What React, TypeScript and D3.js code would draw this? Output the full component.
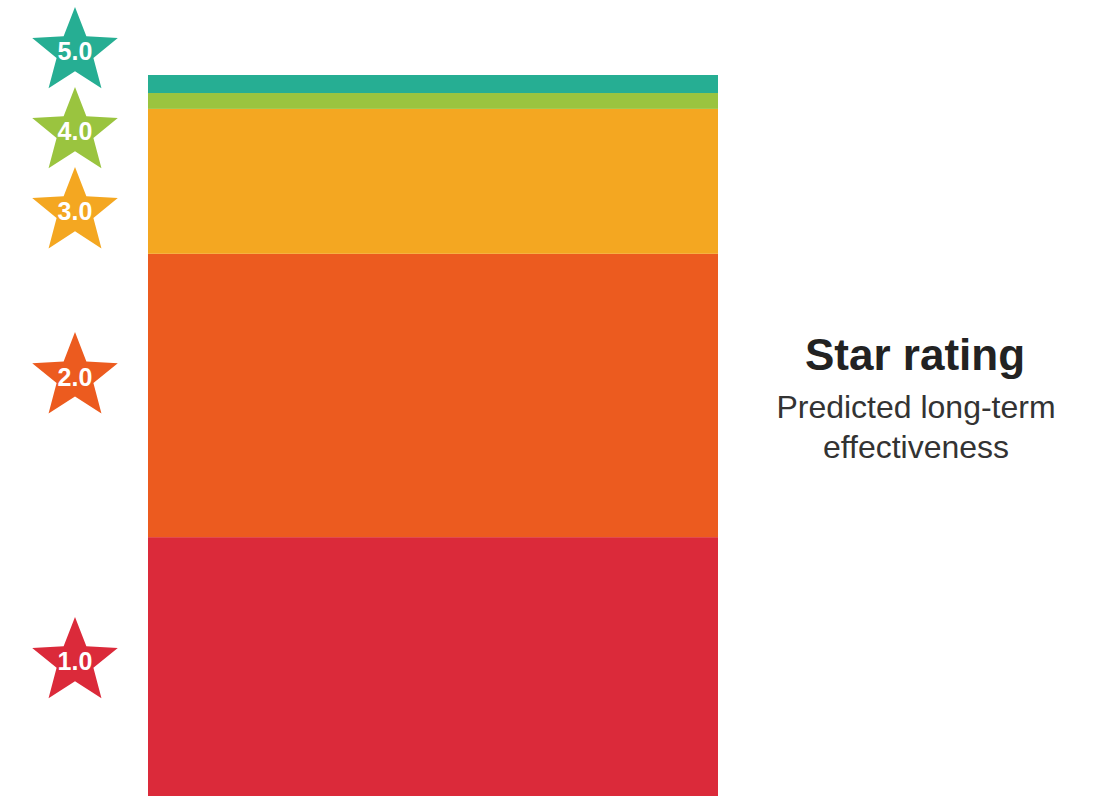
import React from "react";
import * as d3 from "d3";

// ---- data ----
const ratings = ["1.0", "2.0", "3.0", "4.0", "5.0"];
const shares = [35.9, 39.3, 20.1, 2.2, 2.5]; // % of predicted outcomes per star rating
const colors = ["#DB2A3A", "#EC5B1F", "#F4A721", "#9AC43F", "#26AE93"];
const labelAt = [18.6, 58.1, 81.0, 92.1, 103.2]; // star marker anchor, in value units
const title = "Star rating";
const subtitleLines = ["Predicted long-term", "effectiveness"];

const W = 1094;
const H = 796;
const FONT = "'Liberation Sans', Arial, Helvetica, sans-serif";

function starPath(cx: number, cy: number, R: number, r: number): string {
  const pts: [number, number][] = [];
  for (let i = 0; i < 10; i++) {
    const rad = i % 2 === 0 ? R : r;
    const a = (Math.PI / 5) * i;
    pts.push([cx + rad * Math.sin(a), cy - rad * Math.cos(a)]);
  }
  return d3.line()(pts) + "Z";
}

export default function App() {
  const y = d3.scaleLinear().domain([0, 100]).range([796, 75]);
  const x = d3.scaleBand().domain(["bar"]).range([148, 718]).padding(0);

  const cum = d3.cumsum(shares);
  const segs = shares.map((v, i) => ({
    rating: ratings[i],
    y0: cum[i] - v,
    y1: cum[i],
    color: colors[i],
  }));

  const starX = 75;
  const R = 45;
  const r = R * 0.43;

  return (
    <svg
      width={W}
      height={H}
      style={{ position: "absolute", left: 0, top: 0, background: "#fff" }}
      fontFamily={FONT}
    >
      {segs.map((s) => (
        <rect
          key={s.rating}
          x={x("bar")}
          width={x.bandwidth()}
          y={y(s.y1)}
          height={y(s.y0) - y(s.y1)}
          fill={s.color}
        />
      ))}
      {segs.map((s, i) => {
        const cy = y(labelAt[i]);
        return (
          <g key={"star" + s.rating}>
            <path d={starPath(starX, cy, R, r)} fill={s.color} />
            <text
              x={starX}
              y={cy + 8.5}
              textAnchor="middle"
              fill="#fff"
              fontWeight="bold"
              fontSize={25}
            >
              {s.rating}
            </text>
          </g>
        );
      })}
      <text x={915} y={370} textAnchor="middle" fontWeight="bold" fontSize={44} fill="#222">
        {title}
      </text>
      {subtitleLines.map((t, i) => (
        <text key={t} x={916} y={418 + i * 40} textAnchor="middle" fontSize={32} fill="#333">
          {t}
        </text>
      ))}
    </svg>
  );
}
